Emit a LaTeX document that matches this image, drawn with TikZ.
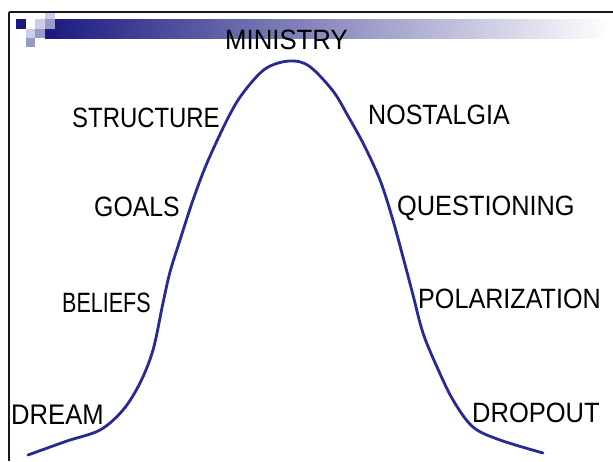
\documentclass[tikz,border=0pt]{standalone}
\usepackage{fontspec}
\setmainfont{Liberation Sans}
\definecolor{navy}{RGB}{26,26,128}
\definecolor{midbar}{RGB}{120,120,165}
\definecolor{medlav}{RGB}{153,153,204}
\definecolor{litlav}{RGB}{204,204,235}
\definecolor{curveblue}{RGB}{40,40,150}
\definecolor{frame}{RGB}{25,25,25}
\newcommand{\lab}[2]{\resizebox{#1pt}{19.5pt}{#2}}
\tikzset{
  lbl/.style={anchor=base west, inner sep=0pt, font=\fontsize{24}{27}\selectfont},
  curve/.style={draw=curveblue, line width=2.8pt, line cap=round}
}
\begin{document}
\begin{tikzpicture}[x=1pt,y=-1pt]
\useasboundingbox (0,0) rectangle (613,461);
\fill[white] (0,0) rectangle (613,461);
% gradient bar
\shade[left color=navy, middle color=midbar, right color=white] (45,19) rectangle (610,38);
% squares
\fill[navy] (16,19) rectangle (26,29);
\fill[litlav] (26,29) rectangle (35,38);
\fill[medlav] (26,38) rectangle (35,47);
\fill[litlav] (35,19) rectangle (45,29);
\fill[medlav] (35,29) rectangle (45,38);
\fill[litlav] (45,13) rectangle (55,19);
\fill[medlav] (45,19) rectangle (55,29);
\fill[navy] (45,29) rectangle (55,38);
% frame
\draw[frame, line width=2.5pt] (9,12) -- (613,12);
\draw[frame, line width=2.2pt] (9,12) -- (9,461);
% curve
\draw[curve] plot[smooth, tension=0.55] coordinates {
 (28,455) (67,441) (100,430) (123,410) (140,383) (153,350) (163,303)
 (170,272) (180,240) (193,200) (207,163) (228,118) (243,93) (265,69)
 (289,61) (309,66) (333,91) (348,116) (364,145) (380,180) (392,217)
 (403,257) (413,295) (423,333) (437,367) (453,400) (473,427) (500,440) (543,453)};
% labels
\node[lbl] (ministry) at (225,49) {\lab{122.5}{MINISTRY}};
\node[lbl] (structure) at (72,127) {\lab{147.5}{STRUCTURE}};
\node[lbl] (goals) at (94,216) {\lab{85.5}{GOALS}};
\node[lbl] (beliefs) at (62,312.5) {\lab{88.5}{BELIEFS}};
\node[lbl] (dream) at (11,424.5) {\lab{92.5}{DREAM}};
\node[lbl] (nostalgia) at (368,124) {\lab{141.5}{NOSTALGIA}};
\node[lbl] (questioning) at (397,215) {\lab{177.5}{QUESTIONING}};
\node[lbl] (polarization) at (418,308) {\lab{182.5}{POLARIZATION}};
\node[lbl] (dropout) at (472,422) {\lab{127.5}{DROPOUT}};
\end{tikzpicture}
\end{document}
